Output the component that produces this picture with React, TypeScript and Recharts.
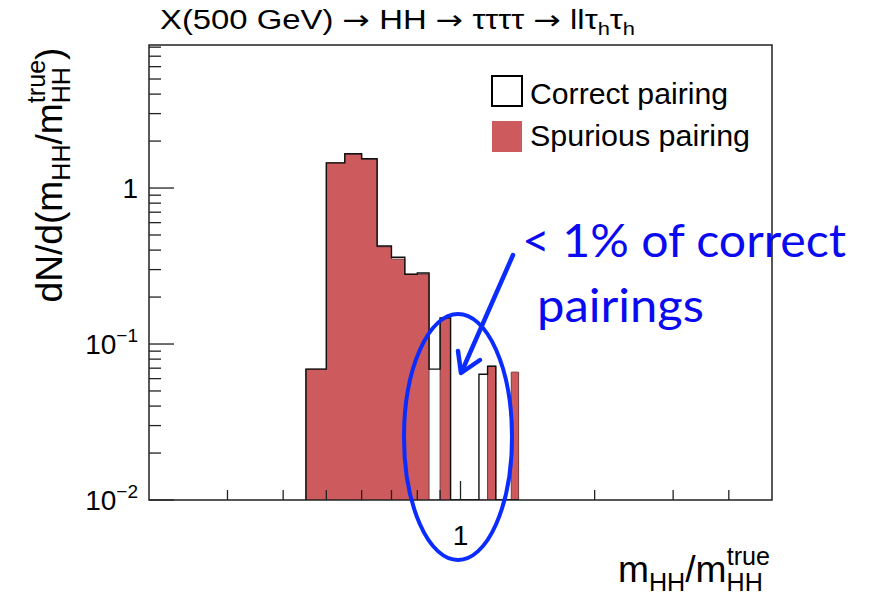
import React from "react";
import { ComposedChart, Area, Line, XAxis, YAxis, ReferenceArea } from "recharts";

// ---- data (histogram bins, width 0.05) ----
const binEdges = [0.45, 0.5, 0.55, 0.6, 0.65, 0.7, 0.75, 0.8, 0.85, 0.9, 0.95, 1.0, 1.05, 1.1, 1.15, 1.2, 1.25, 1.3, 1.35];
const correctPairing = [0.069, 1.45, 1.66, 1.54, 0.425, 0.36, 0.28, 0.285, 0.069, 0.147, 0, 0, 0, 0.064, 0.072, 0, 0, 0];
const spuriousPairing = [0.069, 1.45, 1.65, 1.53, 0.42, 0.35, 0.28, 0.28, 0, 0.147, 0, 0, 0, 0, 0.072, 0, 0, 0.066];

const xTicks = [0.3, 0.4, 0.5, 0.6, 0.7, 0.8, 0.9, 1, 2, 3, 4];
const xMajorTicks = [1];
const yTicks = [0.01, 0.02, 0.03, 0.04, 0.05, 0.06, 0.07, 0.08, 0.09, 0.1, 0.2, 0.3, 0.4, 0.5, 0.6, 0.7, 0.8, 0.9, 1, 2, 3, 4, 5, 6, 7, 8];
const yMajorTicks = [0.01, 0.1, 1];
const yTickLabels: Record<string, [string, string]> = { "0.01": ["10", "\u22122"], "0.1": ["10", "\u22121"], "1": ["1", ""] };

const X_DOMAIN: [number, number] = [0.2, 5];
const Y_DOMAIN: [number, number] = [0.01, 8.26];

const W = 869;
const H = 601;
const FONT = "'Liberation Sans', Arial, Helvetica, sans-serif";
const ARROW_FONT = "'DejaVu Sans', sans-serif";
const RED = "#CD5A5C";
const BLUE = "#0B2CFF";
const TICK_MARGIN = 10;

// empty bins are drawn at the axis floor (log scale)
const floor = (v: number) => (v > 0 ? v : Y_DOMAIN[0]);
const histData = [
  { x: binEdges[0], c: Y_DOMAIN[0], s: Y_DOMAIN[0] },
  ...correctPairing.map((c, i) => ({ x: binEdges[i], c: floor(c), s: floor(spuriousPairing[i]) })),
  { x: binEdges[binEdges.length - 1], c: Y_DOMAIN[0], s: Y_DOMAIN[0] },
];

const YTick = (props: any) => {
  const { x, y, payload } = props;
  const v = payload.value;
  const major = yMajorTicks.includes(v);
  const ax = x + TICK_MARGIN;
  const lab = yTickLabels[String(v)];
  return (
    <g>
      <line x1={ax} x2={ax + (major ? 25 : 12)} y1={y} y2={y} stroke="#222" strokeWidth={1.3} />
      {major && lab && (
        <text x={ax - 11} y={y + 10} textAnchor="end" fontFamily={FONT} fontSize={28} fill="#000">
          {lab[0]}
          {lab[1] && (
            <tspan fontSize={19} dy={-12}>
              {lab[1]}
            </tspan>
          )}
        </text>
      )}
    </g>
  );
};

const XTick = (props: any) => {
  const { x, y, payload } = props;
  const v = payload.value;
  const major = xMajorTicks.includes(v);
  const ay = y - TICK_MARGIN;
  return (
    <g>
      <line x1={x} x2={x} y1={ay} y2={ay - (major ? 19 : 10)} stroke="#222" strokeWidth={1.3} />
      {major && (
        <text x={x} y={ay + 45} textAnchor="middle" fontFamily={FONT} fontSize={28} fill="#000">
          {String(v)}
        </text>
      )}
    </g>
  );
};

export default function App() {
  return (
    <div style={{ position: "absolute", left: 0, top: 0, width: W, height: H, background: "#fff" }}>
      <ComposedChart
        width={W}
        height={H}
        data={histData}
        margin={{ top: 45, right: 97, bottom: 61, left: 89 }}
      >
        <XAxis
          dataKey="x"
          type="number"
          scale="log"
          domain={X_DOMAIN}
          allowDataOverflow
          ticks={xTicks}
          interval={0}
          tick={<XTick />}
          tickLine={false}
          axisLine={false}
          tickSize={0}
          tickMargin={TICK_MARGIN}
          height={40}
        />
        <YAxis
          type="number"
          scale="log"
          domain={Y_DOMAIN}
          allowDataOverflow
          ticks={yTicks}
          interval={0}
          tick={<YTick />}
          tickLine={false}
          axisLine={false}
          tickSize={0}
          tickMargin={TICK_MARGIN}
          width={60}
        />
        <Area
          type="stepAfter"
          dataKey="s"
          baseValue={Y_DOMAIN[0]}
          fill={RED}
          fillOpacity={1}
          stroke="#7a3a3a"
          strokeWidth={1}
          isAnimationActive={false}
          dot={false}
          activeDot={false}
        />
        <Line
          type="stepAfter"
          dataKey="c"
          stroke="#111"
          strokeWidth={1.4}
          dot={false}
          activeDot={false}
          isAnimationActive={false}
        />
        <ReferenceArea
          x1={X_DOMAIN[0]}
          x2={X_DOMAIN[1]}
          y1={Y_DOMAIN[0]}
          y2={Y_DOMAIN[1]}
          fill="none"
          fillOpacity={0}
          stroke="#222"
          strokeWidth={1.5}
          ifOverflow="visible"
        />
      </ComposedChart>
      <svg
        width={W}
        height={H}
        style={{ position: "absolute", left: 0, top: 0, pointerEvents: "none" }}
      >
        {/* title */}
        <text x={160} y={29} fontFamily={FONT} fontSize={27} fill="#000" textLength={475} lengthAdjust="spacingAndGlyphs">
          X(500 GeV) <tspan fontFamily={ARROW_FONT}>{"\u2192"}</tspan> HH <tspan fontFamily={ARROW_FONT}>{"\u2192"}</tspan>{" "}
          {"\u03C4\u03C4\u03C4\u03C4"} <tspan fontFamily={ARROW_FONT}>{"\u2192"}</tspan> ll{"\u03C4"}
          <tspan fontSize={18} dy={6}>h</tspan>
          <tspan fontSize={27} dy={-6}>{"\u03C4"}</tspan>
          <tspan fontSize={18} dy={6}>h</tspan>
        </text>
        {/* y axis title */}
        <g transform="translate(62,175) rotate(-90)">
          <text x={0} y={0} textAnchor="middle" fontFamily={FONT} fontSize={37} fill="#000" textLength={255} lengthAdjust="spacingAndGlyphs">
            dN/d(m
            <tspan fontSize={25} dy={8}>HH</tspan>
            <tspan fontSize={37} dy={-8}>/m</tspan>
            <tspan fontSize={25} dy={8}>HH</tspan>
            <tspan fontSize={25} dx={-36} dy={-25}>true</tspan>
            <tspan fontSize={37} dy={17}>)</tspan>
          </text>
        </g>
        {/* x axis title */}
        <text x={618} y={582} fontFamily={FONT} fontSize={37} fill="#000" textLength={152} lengthAdjust="spacingAndGlyphs">
          m
          <tspan fontSize={25} dy={9}>HH</tspan>
          <tspan fontSize={37} dy={-9}>/m</tspan>
          <tspan fontSize={25} dy={9}>HH</tspan>
          <tspan fontSize={25} dx={-36} dy={-26}>true</tspan>
        </text>
        {/* legend */}
        <rect x={492} y={76} width={30} height={30} fill="#fff" stroke="#000" strokeWidth={2} />
        <text x={530} y={104} fontFamily={FONT} fontSize={29} fill="#000" textLength={198} lengthAdjust="spacingAndGlyphs">Correct pairing</text>
        <rect x={492} y={121} width={30} height={31} fill={RED} />
        <text x={530} y={146} fontFamily={FONT} fontSize={29} fill="#000" textLength={220} lengthAdjust="spacingAndGlyphs">Spurious pairing</text>
        {/* annotation */}
        <ellipse cx={458} cy={437} rx={54} ry={123} fill="none" stroke={BLUE} strokeWidth={4} />
        <line x1={513} y1={255} x2={462} y2={371} stroke={BLUE} strokeWidth={4.5} strokeLinecap="round" />
        <polyline points="458,351 461,373 480,360" fill="none" stroke={BLUE} strokeWidth={4.5} strokeLinecap="round" strokeLinejoin="round" />
        <text x={522} y={257} fontFamily="Lato, 'Liberation Sans', sans-serif" fontSize={46} fill="#0A0AF0" textLength={324} lengthAdjust="spacingAndGlyphs">
          {"< 1% of correct"}
        </text>
        <text x={537} y={322} fontFamily="Lato, 'Liberation Sans', sans-serif" fontSize={46} fill="#0A0AF0" textLength={167} lengthAdjust="spacingAndGlyphs">
          pairings
        </text>
      </svg>
    </div>
  );
}
